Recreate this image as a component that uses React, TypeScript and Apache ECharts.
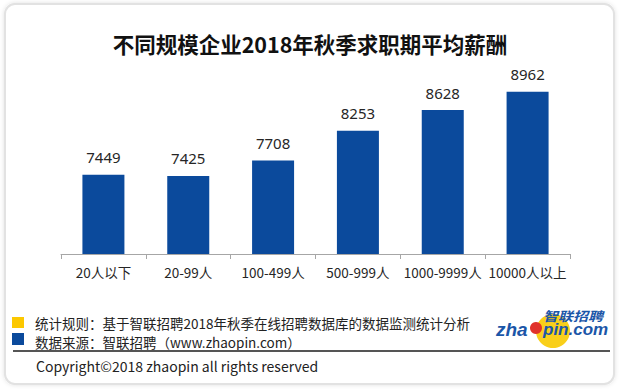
import React, { useEffect, useRef } from "react";
import * as echarts from "echarts";

const title = "不同规模企业2018年秋季求职期平均薪酬";
const categories = ["20人以下", "20-99人", "100-499人", "500-999人", "1000-9999人", "10000人以上"];
const salaries = [7449, 7425, 7708, 8253, 8628, 8962];
const noteRule = "统计规则：基于智联招聘2018年秋季在线招聘数据库的数据监测统计分析";
const noteSource = "数据来源：智联招聘（www.zhaopin.com）";
const copyright = "Copyright©2018 zhaopin all rights reserved";

const CJK = '"Microsoft YaHei", "Noto Sans CJK SC", sans-serif';
const BLUE = "#0b4a9c";
const YELLOW = "#fcc800";

export default function App() {
  const ref = useRef<HTMLDivElement>(null);
  useEffect(() => {
    if (!ref.current) return;
    const chart = echarts.init(ref.current, undefined, { renderer: "svg" });
    chart.setOption({
      animation: false,
      backgroundColor: "#ffffff",
      grid: { left: 61, right: 55, top: 35, bottom: 137 },
      xAxis: {
        type: "category",
        data: categories,
        boundaryGap: true,
        axisLine: { lineStyle: { color: "#a6a6a6", width: 1 } },
        axisTick: { show: true, length: 5, lineStyle: { color: "#a6a6a6" } },
        axisLabel: { color: "#262626", fontSize: 13.5, fontFamily: CJK, margin: 11, interval: 0 },
      },
      yAxis: {
        type: "value",
        min: 6000,
        max: 10000,
        show: false,
        splitLine: { show: false },
      },
      series: [
        {
          type: "bar",
          data: salaries,
          barWidth: 42,
          itemStyle: { color: BLUE },
          label: {
            show: true,
            position: "top",
            distance: 10,
            color: "#262626",
            fontSize: 15,
            fontFamily: '"Noto Sans", sans-serif',
          },
        },
      ],
      graphic: [
        {
          type: "rect",
          z: -10,
          silent: true,
          shape: { x: 5, y: 4, width: 609, height: 380, r: 10 },
          style: {
            fill: "#ffffff",
            stroke: "#e2e2e2",
            lineWidth: 2,
            shadowBlur: 4,
            shadowColor: "rgba(0,0,0,0.12)",
          },
        },
        {
          type: "text",
          x: 310,
          y: 43,
          style: {
            text: title,
            fill: "#111111",
            font: `bold 21.5px ${CJK}`,
            align: "center",
            verticalAlign: "middle",
          },
        },
        { type: "rect", shape: { x: 12, y: 317, width: 12, height: 11 }, style: { fill: YELLOW } },
        { type: "rect", shape: { x: 12, y: 333, width: 12, height: 12 }, style: { fill: BLUE } },
        {
          type: "text",
          x: 35,
          y: 323,
          style: { text: noteRule, fill: "#222222", font: `13.5px ${CJK}`, verticalAlign: "middle" },
        },
        {
          type: "text",
          x: 35,
          y: 342,
          style: { text: noteSource, fill: "#222222", font: `13.5px ${CJK}`, verticalAlign: "middle" },
        },
        {
          type: "line",
          shape: { x1: 13, y1: 351, x2: 610, y2: 351 },
          style: { stroke: "#555555", lineWidth: 2 },
        },
        {
          type: "text",
          x: 36,
          y: 366,
          style: { text: copyright, fill: "#222222", font: `14px ${CJK}`, verticalAlign: "middle" },
        },
        // logo
        { type: "circle", shape: { cx: 553, cy: 331, r: 17 }, style: { fill: "#f9cf1a" } },
        {
          type: "text",
          x: 496,
          y: 329,
          style: {
            text: "zha",
            fill: "#1b56a8",
            font: 'italic bold 19px "Liberation Sans", Arial, sans-serif',
            verticalAlign: "middle",
          },
        },
        { type: "circle", shape: { cx: 536, cy: 328, r: 6 }, style: { fill: "#e0322a" } },
        {
          type: "text",
          x: 543,
          y: 329,
          style: {
            text: "pin.com",
            fill: "#1b56a8",
            font: 'italic bold 17px "Liberation Sans", Arial, sans-serif',
            verticalAlign: "middle",
          },
        },
        {
          type: "text",
          x: 573,
          y: 316,
          scaleY: 0.85,
          style: {
            text: "智联招聘",
            fill: "#1b56a8",
            font: `italic bold 15px ${CJK}`,
            align: "center",
            verticalAlign: "middle",
          },
        },
      ],
    });
    return () => chart.dispose();
  }, []);
  return (
    <div
      ref={ref}
      style={{ position: "fixed", left: 0, top: 0, width: 625, height: 391 }}
    />
  );
}
